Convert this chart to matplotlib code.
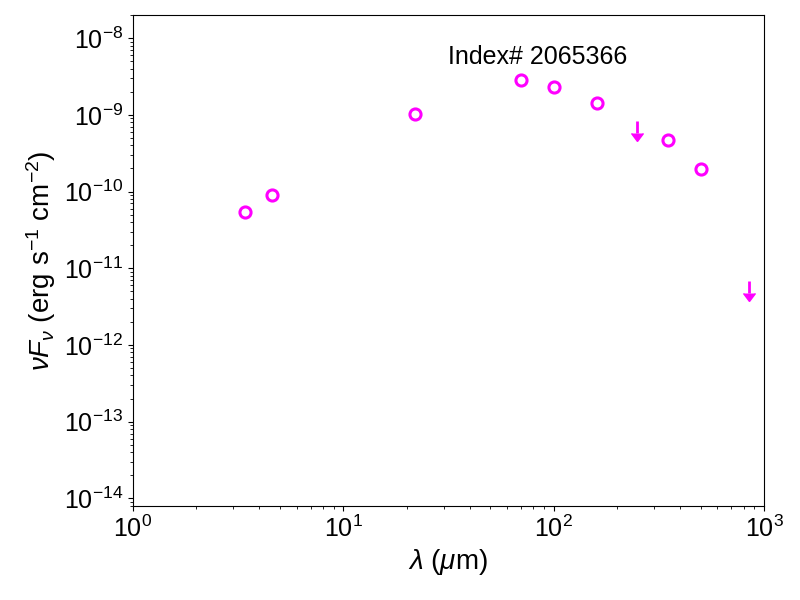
import numpy as np
import matplotlib
matplotlib.use('Agg')
import matplotlib.pyplot as plt
from matplotlib.lines import CARETDOWNBASE

plt.rcParams['font.family'] = ['Liberation Sans', 'DejaVu Sans']
plt.rcParams['font.size'] = 18
plt.rcParams['mathtext.fontset'] = 'custom'
plt.rcParams['mathtext.rm'] = 'Liberation Sans'
plt.rcParams['mathtext.it'] = 'Liberation Sans:italic'
plt.rcParams['mathtext.bf'] = 'Liberation Sans:bold'

# detections
wave = [3.4, 4.6, 22, 70, 100, 160, 350, 500]
flux = [5.4e-11, 8.9e-11, 1.02e-9, 2.86e-9, 2.27e-9, 1.42e-9, 4.68e-10, 1.96e-10]
# upper limits
ul_wave = [250, 850]
ul_flux = [8.4e-10, 6.85e-12]
source_id = 'Index# 2065366'

fig = plt.figure(figsize=(8, 6), dpi=100)
ax = fig.add_axes([0.166, 0.157, 0.789, 0.818])

ax.plot(wave, flux, 'o', mfc='none', mec='magenta', ms=8, mew=2.2)

# upper limits: short line with a downward arrow head
ul = np.array(ul_flux)
ax.vlines(ul_wave, 0.69 * ul, ul, colors='magenta', lw=2)
ax.plot(ul_wave, 0.69 * ul, ls='none', marker=CARETDOWNBASE, color='magenta', ms=8)

ax.set_xscale('log')
ax.set_yscale('log')
ax.set_xlim(1, 1000)
ax.set_ylim(8e-15, 2e-8)
ax.set_xlabel(r'$\lambda$ ($\mu$m)', fontsize=20)
ax.set_ylabel(r'$\nu F_\nu$ (erg s$^{-1}$ cm$^{-2}$)', fontsize=20)
ax.text(0.5, 0.9, source_id, transform=ax.transAxes)

fig.savefig('out.png', dpi=100)
